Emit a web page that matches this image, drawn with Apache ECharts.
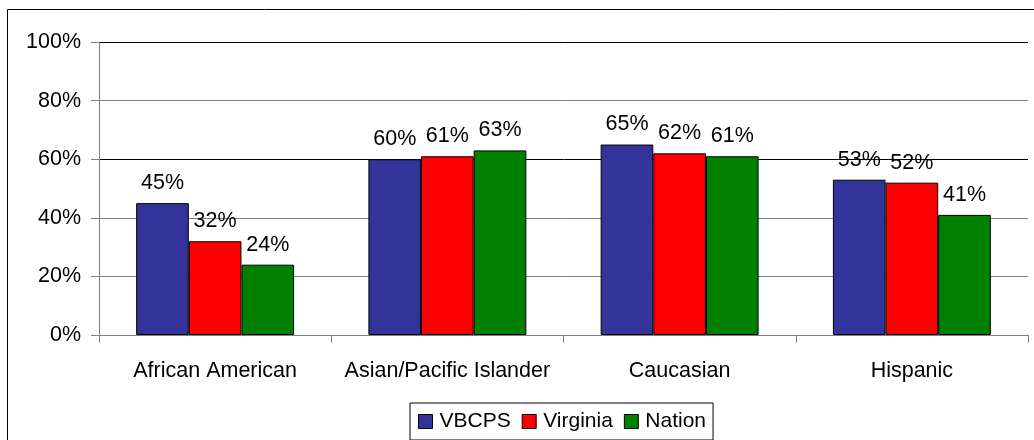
<!DOCTYPE html>
<html><head><meta charset="utf-8">
<script src="https://cdn.jsdelivr.net/npm/echarts@6/dist/echarts.min.js"></script>
<style>html,body{margin:0;padding:0;background:#fff}#c{width:1034px;height:440px}</style>
</head><body><div id="c"></div>
<script>
const categories = ['African American','Asian/Pacific Islander','Caucasian','Hispanic'];
const vbcps = [45, 60, 65, 53];
const virginia = [32, 61, 62, 52];
const nation = [24, 63, 61, 41];
const seriesNames = ['VBCPS','Virginia','Nation'];
const seriesColors = ['#333399','#FF0000','#008000'];
const FONT = 'Liberation Sans, Arial, sans-serif';

const chart = echarts.init(document.getElementById('c'), null, {renderer:'canvas'});
const mk = (name, data, color) => ({
  name, type:'bar', data,
  barGap:'0%', barCategoryGap:'32%',
  itemStyle:{color, borderColor:'#000', borderWidth:1},
  label:{show:true, position:'top', formatter:'{c}%', color:'#000', fontSize:21.5, fontFamily:FONT, distance:9},
  labelLayout:{hideOverlap:false},
  emphasis:{disabled:true}
});
chart.setOption({
  animation:false,
  graphic:[{type:'rect', shape:{x:7.5,y:9.5,width:1100,height:450}, style:{fill:'none', stroke:'#000', lineWidth:1}, silent:true}],
  grid:{left:99, right:6, top:42, bottom:105, containLabel:false},
  legend:{
    data:seriesNames, left:410, top:403, orient:'horizontal',
    icon:'rect', itemWidth:14, itemHeight:14, itemGap:11,
    padding:[8,7,8,8], borderColor:'#000', borderWidth:1, backgroundColor:'#fff',
    textStyle:{fontSize:21, fontFamily:FONT, color:'#000', padding:[0,0,0,2]},
    itemStyle:{borderColor:'#000', borderWidth:1}
  },
  xAxis:{
    type:'category', data:categories,
    axisLine:{lineStyle:{color:'#808080'}},
    axisTick:{show:true, interval:0, length:8, lineStyle:{color:'#808080'}, alignWithLabel:false},
    axisLabel:{interval:0, hideOverlap:false, fontSize:21.5, fontFamily:FONT, color:'#000', margin:25}
  },
  yAxis:{
    type:'value', min:0, max:100, interval:20,
    axisLine:{show:true, lineStyle:{color:'#808080'}},
    axisTick:{show:true, length:8, inside:false, lineStyle:{color:'#808080'}},
    axisLabel:{formatter:'{value}%', fontSize:21.5, fontFamily:FONT, color:'#000', margin:18},
    splitLine:{show:true, lineStyle:{color:['#808080','#808080','#808080','#000','#808080','#000'], width:1}}
  },
  series:[mk(seriesNames[0], vbcps, seriesColors[0]), mk(seriesNames[1], virginia, seriesColors[1]), mk(seriesNames[2], nation, seriesColors[2])]
});
</script></body></html>
